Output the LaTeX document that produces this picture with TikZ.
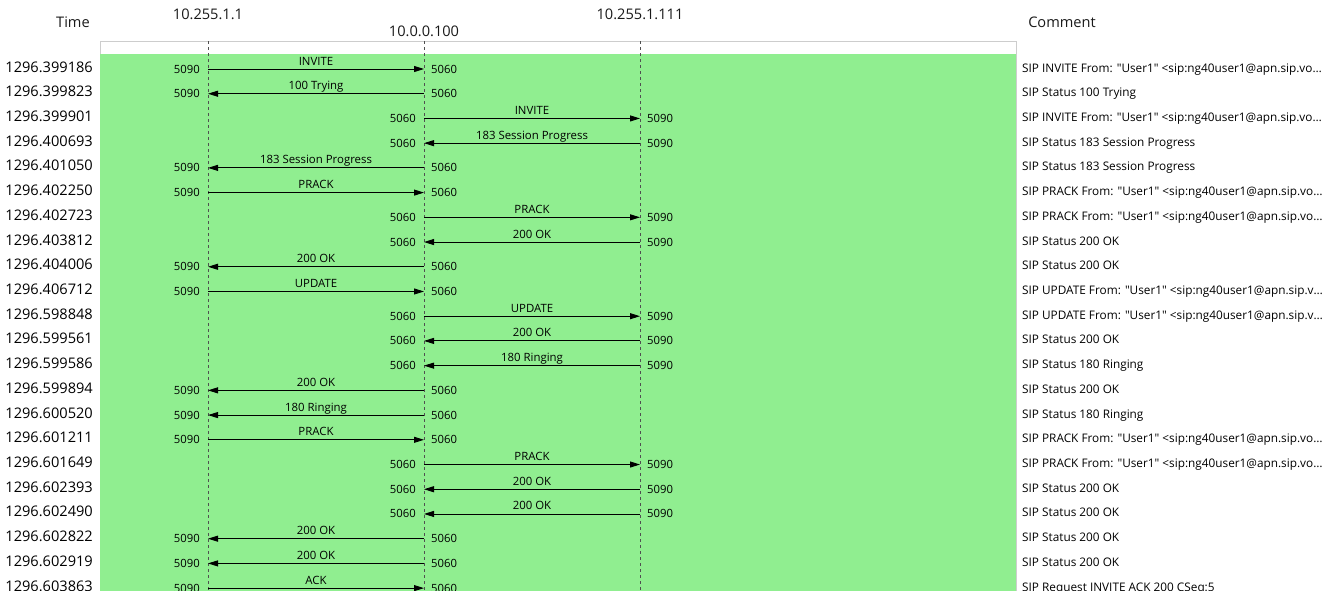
\documentclass[tikz,border=0pt]{standalone}
\usepackage{fontspec}
\setmainfont{Open Sans}[Ligatures=TeXOff]
\usetikzlibrary{arrows.meta}
\definecolor{flowgreen}{RGB}{144,238,144}
\definecolor{framegray}{RGB}{205,205,205}
\definecolor{lifegray}{RGB}{80,80,80}
\tikzset{
  hdr/.style={font=\fontsize{14.6}{16}\selectfont, inner sep=0pt, text=black!90},
  timetxt/.style={font=\fontsize{14.6}{16}\selectfont, anchor=base east, inner sep=0pt, text=black},
  comtxt/.style={font=\fontsize{11.8}{13}\selectfont, anchor=base west, inner sep=0pt, text=black},
  port/.style={font=\fontsize{11.3}{13}\selectfont, inner sep=0pt, text=black},
  msglabel/.style={font=\fontsize{11.4}{13}\selectfont, anchor=base, inner sep=0pt, text=black},
  lifeline/.style={draw=lifegray, dash pattern=on 3pt off 3pt, line width=0.7pt},
  msgline/.style={draw=black, line width=0.9pt},
  fwd/.style={-{Triangle[length=10pt,width=6pt]}},
  back/.style={{Triangle[length=10pt,width=6pt]}-},
}
\def\xA{208}\def\xB{424}\def\xC{640}
\def\portA{5090}\def\portB{5060}\def\portC{5090}
% #1 row, #2 time, #3 left lifeline, #4 right lifeline, #5 fwd/back, #6 label, #7 comment
\newcommand\sipmsg[7]{%
  \pgfmathsetmacro\ry{67+24.72*#1}%
  \coordinate (r#1) at (0,\ry+2);
  \node[timetxt] (t#1) at (93,\ry+5) {#2};
  \node[port, anchor=base east] (pl#1) at (\csname x#3\endcsname-8,\ry+6) {\csname port#3\endcsname};
  \node[port, anchor=base west] (pr#1) at (\csname x#4\endcsname+7,\ry+6) {\csname port#4\endcsname};
  \draw[msgline,#5] (#3 |- r#1) -- (#4 |- r#1);
  \node[msglabel] (l#1) at ({(\csname x#3\endcsname+\csname x#4\endcsname)/2},\ry-2) {#6};
  \node[comtxt] (c#1) at (1022,\ry+5) {#7};
}
\begin{document}
\begin{tikzpicture}[x=1pt,y=-1pt]
\useasboundingbox (0,0) rectangle (1328,605);
\begin{scope}
\clip (0,0) rectangle (1328,590);
% headers
\node[hdr] (htime) at (73,22) {Time};
\node[hdr] (hcom) at (1062,22) {Comment};
\node[hdr] (hA) at (\xA,14) {10.255.1.1};
\node[hdr] (hB) at (\xB,31) {10.0.0.100};
\node[hdr] (hC) at (\xC,14) {10.255.1.111};
% frame and green area
\draw[framegray, fill=white, line width=0.8pt] (100,41) rectangle (1016,600);
\fill[flowgreen] (100,54) rectangle (1016,600);
% lifelines
\coordinate (A) at (\xA,41);
\coordinate (B) at (\xB,41);
\coordinate (C) at (\xC,41);
\coordinate (Aend) at (\xA,600);
\coordinate (Bend) at (\xB,600);
\coordinate (Cend) at (\xC,600);
\draw[lifeline] (A) -- (Aend);
\draw[lifeline] (B) -- (Bend);
\draw[lifeline] (C) -- (Cend);
% messages
\sipmsg{0}{1296.399186}{A}{B}{fwd}{INVITE}{SIP INVITE From: "User1" <sip:ng40user1@apn.sip.vo…}
\sipmsg{1}{1296.399823}{A}{B}{back}{100 Trying}{SIP Status 100 Trying}
\sipmsg{2}{1296.399901}{B}{C}{fwd}{INVITE}{SIP INVITE From: "User1" <sip:ng40user1@apn.sip.vo…}
\sipmsg{3}{1296.400693}{B}{C}{back}{183 Session Progress}{SIP Status 183 Session Progress}
\sipmsg{4}{1296.401050}{A}{B}{back}{183 Session Progress}{SIP Status 183 Session Progress}
\sipmsg{5}{1296.402250}{A}{B}{fwd}{PRACK}{SIP PRACK From: "User1" <sip:ng40user1@apn.sip.vo…}
\sipmsg{6}{1296.402723}{B}{C}{fwd}{PRACK}{SIP PRACK From: "User1" <sip:ng40user1@apn.sip.vo…}
\sipmsg{7}{1296.403812}{B}{C}{back}{200 OK}{SIP Status 200 OK}
\sipmsg{8}{1296.404006}{A}{B}{back}{200 OK}{SIP Status 200 OK}
\sipmsg{9}{1296.406712}{A}{B}{fwd}{UPDATE}{SIP UPDATE From: "User1" <sip:ng40user1@apn.sip.v…}
\sipmsg{10}{1296.598848}{B}{C}{fwd}{UPDATE}{SIP UPDATE From: "User1" <sip:ng40user1@apn.sip.v…}
\sipmsg{11}{1296.599561}{B}{C}{back}{200 OK}{SIP Status 200 OK}
\sipmsg{12}{1296.599586}{B}{C}{back}{180 Ringing}{SIP Status 180 Ringing}
\sipmsg{13}{1296.599894}{A}{B}{back}{200 OK}{SIP Status 200 OK}
\sipmsg{14}{1296.600520}{A}{B}{back}{180 Ringing}{SIP Status 180 Ringing}
\sipmsg{15}{1296.601211}{A}{B}{fwd}{PRACK}{SIP PRACK From: "User1" <sip:ng40user1@apn.sip.vo…}
\sipmsg{16}{1296.601649}{B}{C}{fwd}{PRACK}{SIP PRACK From: "User1" <sip:ng40user1@apn.sip.vo…}
\sipmsg{17}{1296.602393}{B}{C}{back}{200 OK}{SIP Status 200 OK}
\sipmsg{18}{1296.602490}{B}{C}{back}{200 OK}{SIP Status 200 OK}
\sipmsg{19}{1296.602822}{A}{B}{back}{200 OK}{SIP Status 200 OK}
\sipmsg{20}{1296.602919}{A}{B}{back}{200 OK}{SIP Status 200 OK}
\sipmsg{21}{1296.603863}{A}{B}{fwd}{ACK}{SIP Request INVITE ACK 200 CSeq:5}
\end{scope}
\end{tikzpicture}
\end{document}
